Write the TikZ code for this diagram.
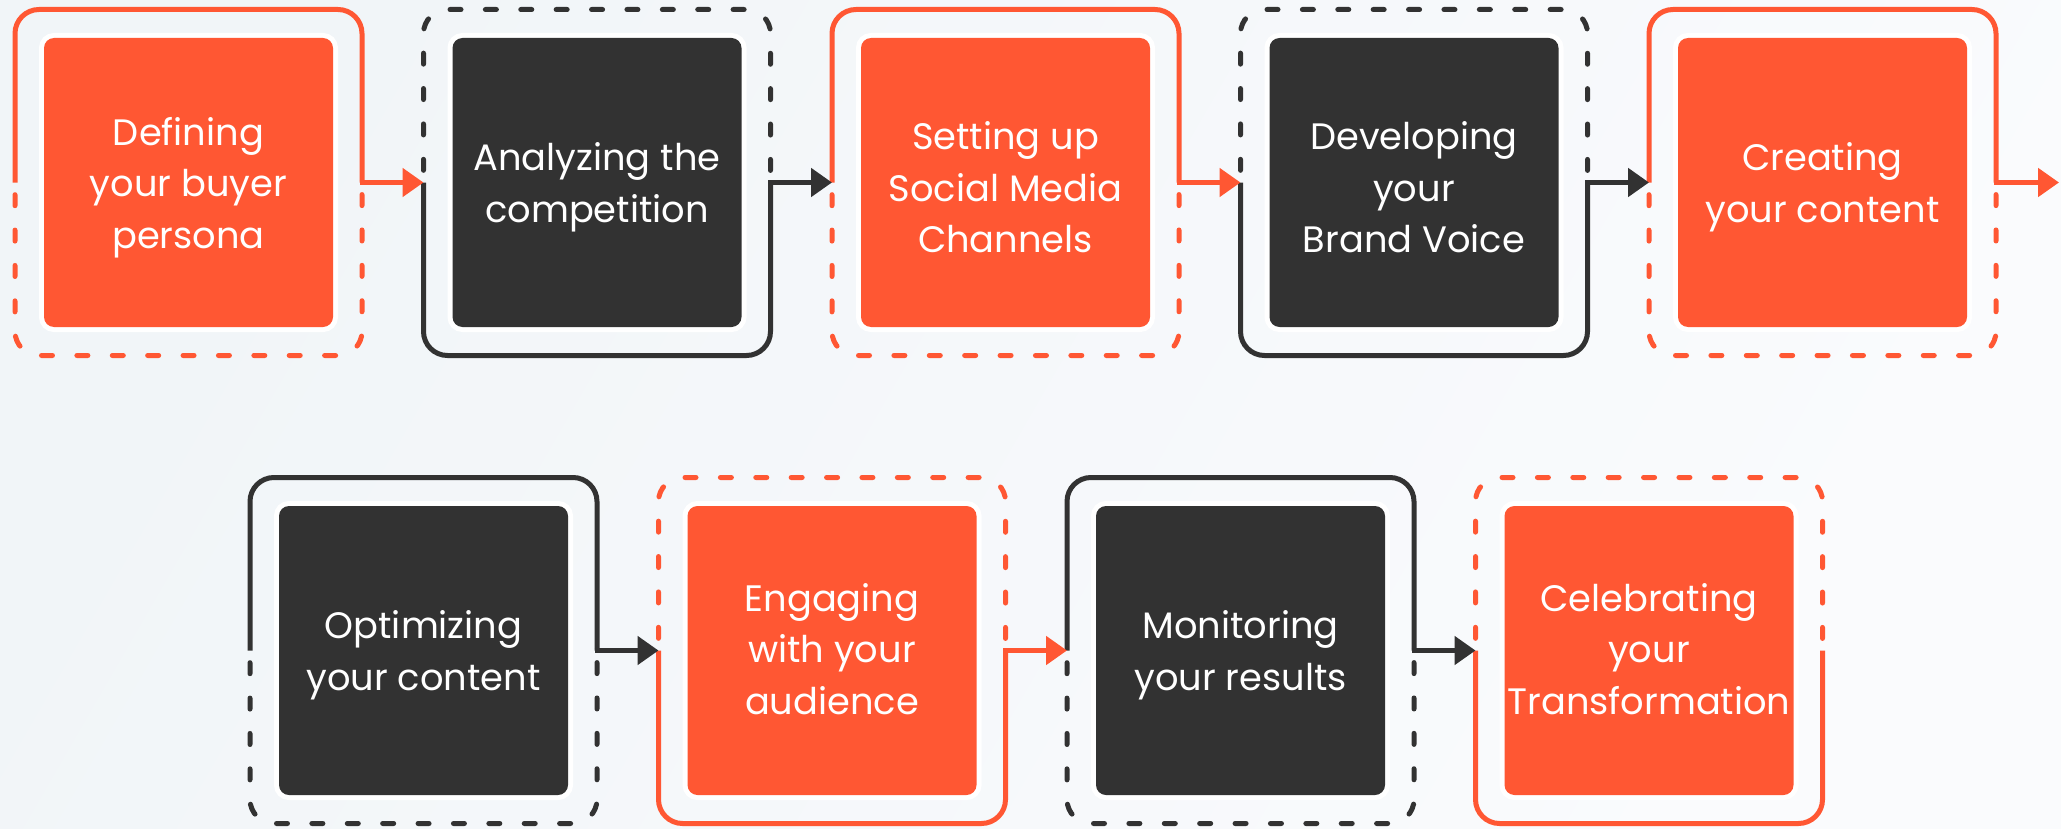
\documentclass[tikz,border=0pt]{standalone}
\usepackage{fontspec}
\setmainfont{Poppins}
\usetikzlibrary{arrows.meta}
\definecolor{orng}{HTML}{FF5733}
\definecolor{drk}{HTML}{323232}
\definecolor{bgA}{HTML}{F1F5F8}
\definecolor{bgB}{HTML}{FAFBFD}
\begin{document}
\begin{tikzpicture}[x=0.5pt,y=-0.5pt,
  framebox/.style={minimum width=173.5pt, minimum height=173pt, inner sep=0pt, outer sep=0pt},
  card/.style={minimum size=144.5pt, inner sep=0pt, outer sep=0pt, rounded corners=5pt,
    preaction={draw=white, line width=5pt}},
  cardtext/.style={text=white, align=center, font=\fontsize{18.4}{25.8}\selectfont, inner sep=0pt},
  solidline/.style={line width=2.5pt, rounded corners=12pt},
  dashline/.style={line width=2.5pt, rounded corners=12pt, line cap=round,
    dash pattern=on 5.5pt off 12.195pt, dash phase=11.6pt},
  conn/.style={line width=2.5pt, -{Triangle[length=10.5pt,width=14pt]}}]
\useasboundingbox (0,0) rectangle (2061,829);
\shade[left color=bgA, right color=bgB, shading angle=60] (0,0) rectangle (2061,829);

% frames
\node[framebox] (f1) at (188.5,182.5) {};
\node[framebox] (f2) at (597,182.5) {};
\node[framebox] (f3) at (1005.5,182.5) {};
\node[framebox] (f4) at (1414,182.5) {};
\node[framebox] (f5) at (1822.5,182.5) {};
\node[framebox] (f6) at (423.5,650.5) {};
\node[framebox] (f7) at (832,650.5) {};
\node[framebox] (f8) at (1240.5,650.5) {};
\node[framebox] (f9) at (1649,650.5) {};
\coordinate (e5) at (2059,182.5);

% solid top, dashed bottom
\foreach \f/\c in {f1/orng, f3/orng, f5/orng, f6/drk, f8/drk}{
  \draw[solidline, \c] (\f.west) -- (\f.north west) -- (\f.north east) -- (\f.east);
  \draw[dashline, \c] (\f.west) -- (\f.south west) -- (\f.south east) -- (\f.east);
}
% dashed top, solid bottom
\foreach \f/\c in {f2/drk, f4/drk, f7/orng, f9/orng}{
  \draw[dashline, \c] (\f.west) -- (\f.north west) -- (\f.north east) -- (\f.east);
  \draw[solidline, \c] (\f.west) -- (\f.south west) -- (\f.south east) -- (\f.east);
}

% cards
\foreach \i/\c in {1/orng,2/drk,3/orng,4/drk,5/orng,6/drk,7/orng,8/drk,9/orng}{
  \node[card, fill=\c] (c\i) at (f\i.center) {};
}
\node[cardtext] (t1) at ([yshift=-2.5pt]c1.center) {Defining\\your buyer\\persona};
\node[cardtext] (t2) at ([yshift=-2.5pt]c2.center) {Analyzing the\\competition};
\node[cardtext] (t3) at ([yshift=-2.5pt]c3.center) {Setting up\\Social Media\\Channels};
\node[cardtext] (t4) at ([yshift=-2.5pt]c4.center) {Developing\\your\\Brand Voice};
\node[cardtext] (t5) at ([yshift=-2.5pt]c5.center) {Creating\\your content};
\node[cardtext] (t6) at ([yshift=-2.5pt]c6.center) {Optimizing\\your content};
\node[cardtext] (t7) at ([yshift=0.8pt]c7.center) {Engaging\\with your\\audience};
\node[cardtext] (t8) at ([yshift=-2.5pt]c8.center) {Monitoring\\your results};
\node[cardtext] (t9) at ([yshift=0.8pt]c9.center) {Celebrating\\your\\Transformation};

% connectors
\draw[conn, orng] ([xshift=-1.25pt]f1.east) -- (f2.west);
\draw[conn, drk] ([xshift=-1.25pt]f2.east) -- (f3.west);
\draw[conn, orng] ([xshift=-1.25pt]f3.east) -- (f4.west);
\draw[conn, drk] ([xshift=-1.25pt]f4.east) -- (f5.west);
\draw[conn, orng] ([xshift=-1.25pt]f5.east) -- (e5);
\draw[conn, drk] ([xshift=-1.25pt]f6.east) -- (f7.west);
\draw[conn, orng] ([xshift=-1.25pt]f7.east) -- (f8.west);
\draw[conn, drk] ([xshift=-1.25pt]f8.east) -- (f9.west);
\end{tikzpicture}
\end{document}
